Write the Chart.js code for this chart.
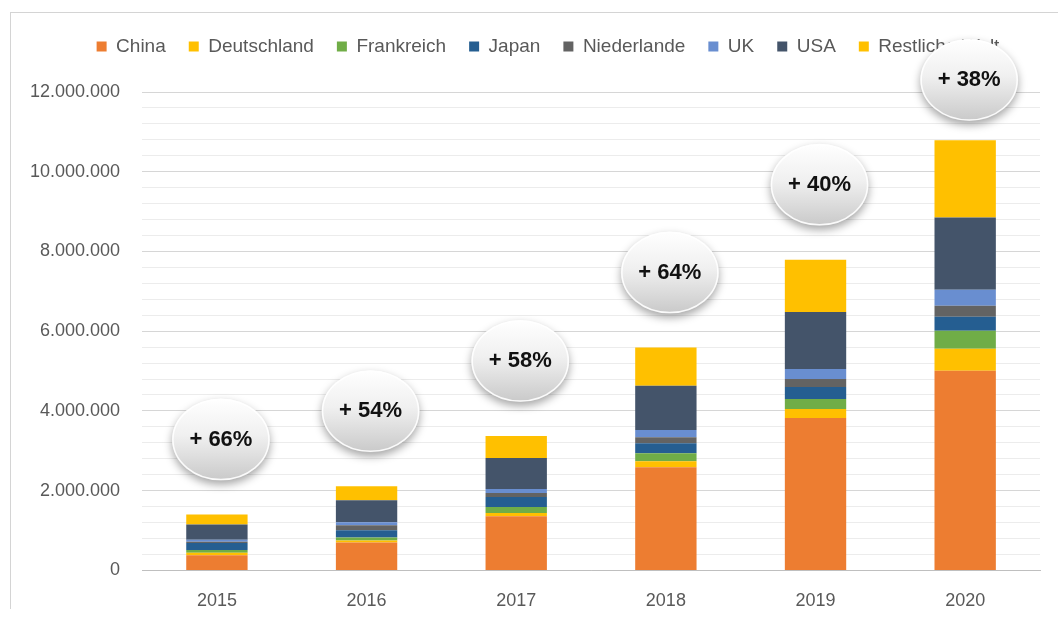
<!DOCTYPE html>
<html>
<head>
<meta charset="utf-8">
<script src="https://cdn.jsdelivr.net/npm/chart.js@4.4.1/dist/chart.umd.min.js"></script>
<style>
    html, body { margin: 0; padding: 0; background: #fff; overflow: hidden; }
    #wrap { position: relative; width: 1058px; height: 621px; overflow: hidden; }
    #frame { position: absolute; left: 10px; top: 12px; right: 0; bottom: 12px;
             border-left: 1px solid #d4d4d4; border-top: 1px solid #d4d4d4; }
    #chart { position: absolute; left: 0; top: 0; }
</style>
</head>
<body>
<div id="wrap">
    <div id="frame"></div>
    <canvas id="chart" width="1058" height="624"></canvas>
</div>
<script>
// Years on the x axis
const years = ['2015', '2016', '2017', '2018', '2019', '2020'];

// Stock per country (vehicles)
const china        = [380000, 700000, 1360000, 2590000, 3820000, 5010000];
const deutschland  = [60000, 50000, 80000, 150000, 230000, 550000];
const frankreich   = [70000, 75000, 150000, 200000, 250000, 450000];
const japan        = [180000, 180000, 250000, 250000, 300000, 350000];
const niederlande  = [30000, 130000, 100000, 150000, 200000, 280000];
const uk           = [50000, 75000, 100000, 180000, 250000, 400000];
const usa          = [380000, 550000, 780000, 1110000, 1430000, 1810000];
const restlicheWelt = [250000, 350000, 550000, 960000, 1310000, 1940000];

// Growth vs previous year, shown in the bubbles
const growth = ['+ 66%', '+ 54%', '+ 58%', '+ 64%', '+ 40%', '+ 38%'];

// Axis ticks
const yTicks = [0, 2000000, 4000000, 6000000, 8000000, 10000000, 12000000];
const yTickLabels = ['0', '2.000.000', '4.000.000', '6.000.000', '8.000.000', '10.000.000', '12.000.000'];

const series = [
    { label: 'China', data: china, color: '#ED7D31' },
    { label: 'Deutschland', data: deutschland, color: '#FFC000' },
    { label: 'Frankreich', data: frankreich, color: '#70AD47' },
    { label: 'Japan', data: japan, color: '#255E91' },
    { label: 'Niederlande', data: niederlande, color: '#636363' },
    { label: 'UK', data: uk, color: '#698ED0' },
    { label: 'USA', data: usa, color: '#44546A' },
    { label: 'Restliche Welt', data: restlicheWelt, color: '#FFC000' }
];

// extra room between legend and plot, legend nudged a bit to the right
const legendTweak = {
    id: 'legendTweak',
    beforeInit(chart) {
        const fit = chart.legend.fit;
        chart.legend.fit = function() {
            fit.bind(chart.legend)();
            this.height += 26;
        };
    },
    afterLayout(chart) {
        chart.legend.left += 24;
        chart.legend.right += 24;
    }
};

// draws the grey growth bubbles above each stacked bar
const bubblePlugin = {
    id: 'bubbles',
    afterDraw(chart) {
        const ctx = chart.ctx;
        const x = chart.scales.x;
        const y = chart.scales.y;
        years.forEach((yr, i) => {
            let total = 0;
            series.forEach(s => { total += s.data[i]; });
            const cx = x.getPixelForValue(i) + 4;
            const cy = Math.max(y.getPixelForValue(total) - 75, 80);
            const rx = 49, ry = 41;

            ctx.save();
            ctx.shadowColor = 'rgba(0,0,0,0.35)';
            ctx.shadowBlur = 8;
            ctx.shadowOffsetY = 4;
            ctx.beginPath();
            ctx.ellipse(cx, cy, rx, ry, 0, 0, Math.PI * 2);
            const grad = ctx.createLinearGradient(0, cy - ry, 0, cy + ry);
            grad.addColorStop(0, '#ffffff');
            grad.addColorStop(0.45, '#f0f0f0');
            grad.addColorStop(1, '#c9c9c9');
            ctx.fillStyle = grad;
            ctx.fill();
            ctx.restore();

            ctx.save();
            ctx.beginPath();
            ctx.ellipse(cx, cy, rx - 1, ry - 1, 0, 0, Math.PI * 2);
            ctx.strokeStyle = 'rgba(255,255,255,0.9)';
            ctx.lineWidth = 1.5;
            ctx.stroke();

            ctx.fillStyle = '#111';
            ctx.font = 'bold 22px "Liberation Sans", Arial, sans-serif';
            ctx.textAlign = 'center';
            ctx.textBaseline = 'middle';
            ctx.fillText(growth[i], cx, cy);
            ctx.restore();
        });
    }
};

const ctx = document.getElementById('chart').getContext('2d');
new Chart(ctx, {
    type: 'bar',
    data: {
        labels: years,
        datasets: series.map(s => ({
            label: s.label,
            data: s.data,
            backgroundColor: s.color,
            borderWidth: 0,
            categoryPercentage: 1.0,
            barPercentage: 0.41
        }))
    },
    options: {
        responsive: false,
        animation: false,
        layout: { padding: { left: 8, right: 18, top: 14, bottom: 0 } },
        plugins: {
            legend: {
                position: 'top',
                labels: {
                    color: '#595959',
                    font: { family: '"Liberation Sans", Arial, sans-serif', size: 19 },
                    boxWidth: 10,
                    boxHeight: 10,
                    padding: 23
                }
            },
            tooltip: { enabled: false }
        },
        scales: {
            x: {
                stacked: true,
                grid: { display: false },
                border: { color: '#bfbfbf' },
                ticks: {
                    color: '#595959',
                    font: { family: '"Liberation Sans", Arial, sans-serif', size: 18 },
                    padding: 12
                }
            },
            y: {
                stacked: true,
                min: 0,
                max: yTicks[yTicks.length - 1],
                border: { display: false },
                grid: {
                    drawTicks: false,
                    color: c => (c.tick && c.tick.value % 2000000 === 0) ? '#d6d6d6' : '#ececec'
                },
                ticks: {
                    stepSize: 400000,
                    autoSkip: false,
                    padding: 22,
                    color: '#595959',
                    font: { family: '"Liberation Sans", Arial, sans-serif', size: 18 },
                    callback: function(value) {
                        const idx = yTicks.indexOf(value);
                        return idx >= 0 ? yTickLabels[idx] : '';
                    }
                }
            }
        }
    },
    plugins: [legendTweak, bubblePlugin]
});
</script>
</body>
</html>
